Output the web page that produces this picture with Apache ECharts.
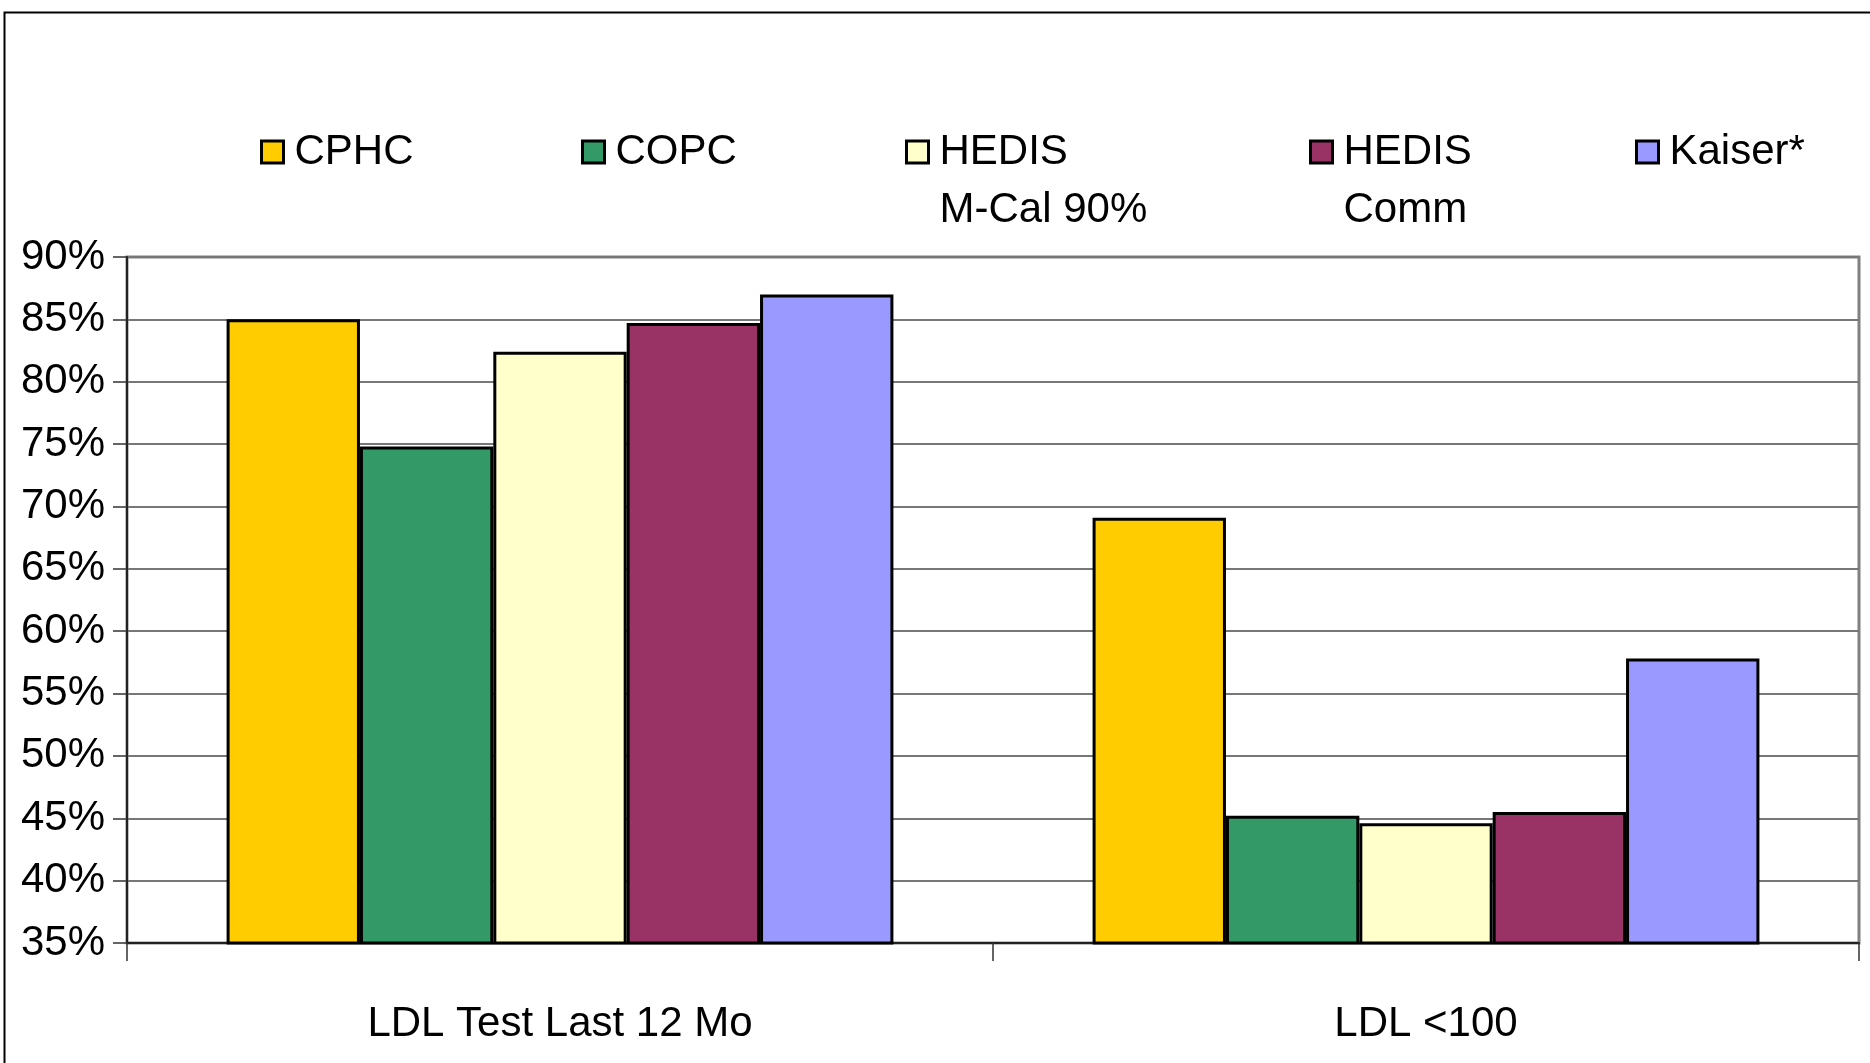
<!DOCTYPE html>
<html>
<head>
<meta charset="utf-8">
<script src="https://cdn.jsdelivr.net/npm/echarts@6/dist/echarts.min.js"></script>
<style>
html,body{margin:0;padding:0;background:#fff;}
#c{width:1870px;height:1063px;}
</style>
</head>
<body>
<div id="c"></div>
<script>
const categories = ['LDL Test Last 12 Mo', 'LDL <100'];
const seriesNames = ['CPHC', 'COPC', 'HEDIS M-Cal 90%', 'HEDIS Comm', 'Kaiser*'];
const legendLabels = ['CPHC', 'COPC', 'HEDIS\nM-Cal 90%', 'HEDIS\nComm', 'Kaiser*'];
const cphc = [85.0, 69.1];
const copc = [74.8, 45.2];
const hedisMcal = [82.4, 44.6];
const hedisComm = [84.7, 45.5];
const kaiser = [87.0, 57.8];
const yMin = 35, yMax = 90, yStep = 5;

const values = [cphc, copc, hedisMcal, hedisComm, kaiser];
const colors = ['#FFCC00', '#339966', '#FFFFCC', '#993366', '#9999FF'];
const FONT = '"Liberation Sans Narrow", "Arial Narrow", "Liberation Sans", Arial, sans-serif';
const FS = 42;
const legendLeft = [260, 581, 905, 1309, 1635];

const chart = echarts.init(document.getElementById('c'));

const legends = seriesNames.map((n, i) => {
  const twoLine = legendLabels[i].indexOf('\n') >= 0;
  return {
    data: [n],
    left: legendLeft[i],
    top: twoLine ? 65 : 123,
    padding: 0,
    itemWidth: 22,
    itemHeight: 22,
    icon: 'rect',
    selectedMode: false,
    itemStyle: { borderColor: '#000', borderWidth: 3 },
    formatter: () => twoLine ? '\u00a0\n' + legendLabels[i] : legendLabels[i],
    textStyle: {
      fontFamily: FONT, fontSize: FS, color: '#000', lineHeight: 58,
      padding: [0, 0, 0, 6]
    }
  };
});

chart.setOption({
  animation: false,
  backgroundColor: '#fff',
  graphic: [{
    type: 'rect', left: 2, top: 10, silent: true,
    shape: { width: 1900, height: 1100 },
    style: { fill: 'none', stroke: '#000', lineWidth: 2 }
  }],
  legend: legends,
  grid: {
    left: 127, right: 11, top: 257, bottom: 120,
    show: true, borderColor: '#808080', borderWidth: 3, backgroundColor: 'transparent'
  },
  xAxis: {
    type: 'category',
    data: categories,
    axisLine: { lineStyle: { color: '#222', width: 2 } },
    axisTick: { show: true, length: 18, lineStyle: { color: '#333', width: 1.5 } },
    axisLabel: { fontFamily: FONT, fontSize: FS, color: '#000', margin: 60 }
  },
  yAxis: {
    type: 'value',
    min: yMin, max: yMax, interval: yStep,
    axisLine: { show: true, lineStyle: { color: '#222', width: 2 } },
    axisTick: { show: true, length: 14, lineStyle: { color: '#333', width: 1.5 } },
    splitLine: { lineStyle: { color: '#777', width: 2 } },
    axisLabel: { fontFamily: FONT, fontSize: FS, color: '#000', margin: 22, formatter: '{value}%' }
  },
  series: seriesNames.map((n, i) => ({
    name: n,
    type: 'bar',
    data: values[i],
    barGap: '0%',
    barCategoryGap: '23%',
    itemStyle: { color: colors[i], borderColor: '#000', borderWidth: 3 }
  }))
});
</script>
</body>
</html>
